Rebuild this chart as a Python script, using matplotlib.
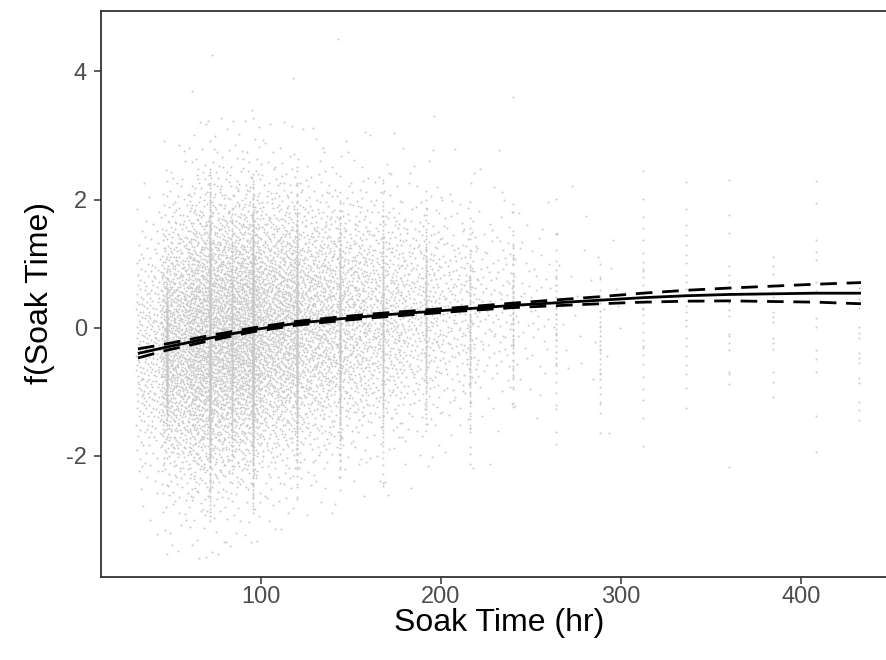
import math
import numpy as np
import matplotlib
matplotlib.use("Agg")
import matplotlib.pyplot as plt

# ---- fitted smooth ----
soak = [32, 48, 72, 96, 120, 144, 168, 192, 216, 240, 264, 288, 312, 336, 360, 384, 408, 433]
fit = [-0.40, -0.30, -0.16, -0.03, 0.07, 0.14, 0.20, 0.25, 0.30, 0.35, 0.39, 0.43, 0.47, 0.50, 0.52, 0.53, 0.54, 0.54]
half_ci = [0.07, 0.05, 0.04, 0.03, 0.03, 0.03, 0.03, 0.03, 0.03, 0.035, 0.045, 0.055, 0.07, 0.085, 0.10, 0.12, 0.14, 0.165]

# ---- partial-residual cloud, summarised per soak-time bin ----
bin_lo = [31, 45, 60, 80, 100, 120, 140, 160, 180, 200, 220, 240, 260]
bin_hi = [45, 60, 80, 100, 120, 140, 160, 180, 200, 220, 240, 260, 300]
bin_n = [260, 800, 1450, 1400, 1050, 750, 560, 420, 290, 200, 110, 55, 30]
bin_sd = [1.00, 1.12, 1.18, 1.15, 1.10, 1.05, 1.00, 0.98, 0.95, 0.90, 0.85, 0.80, 0.80]

# recorded soak times (vertical stripes): hour, count, lowest, highest residual value
col_hr = [48, 72, 84, 96, 120, 144, 168, 192, 216, 240, 264, 288, 312, 336, 360, 384, 408, 432]
col_n = [160, 420, 150, 420, 260, 200, 140, 100, 80, 60, 40, 30, 28, 22, 18, 14, 14, 14]
col_lo = [-1.7, -3.0, -2.6, -2.9, -2.7, -2.6, -2.6, -1.9, -2.3, -1.7, -1.8, -1.9, -2.4, -1.8, -2.2, -1.6, -2.2, -2.2]
col_hi = [0.9, 2.6, 1.9, 2.4, 2.5, 2.3, 2.4, 2.2, 2.0, 2.1, 2.0, 1.4, 3.0, 2.6, 2.5, 2.0, 3.0, 1.3]

# a few isolated high residuals visible above the cloud: (hour, value)
out_hr = [62, 73, 95, 118, 143, 196, 240]
out_val = [3.7, 4.25, 3.4, 3.9, 4.5, 3.3, 3.6]


def halton(n, base, start=1):
    out = np.empty(n)
    for k in range(n):
        i = k + start
        f, r = 1.0, 0.0
        while i > 0:
            f /= base
            r += f * (i % base)
            i //= base
        out[k] = r
    return out


zgrid = np.linspace(-4.5, 4.5, 2001)
cdf = np.array([0.5 * (1 + math.erf(z / math.sqrt(2))) for z in zgrid])


def ppf(u):
    return np.interp(u, cdf, zgrid)


px, py = [], []
start = 1
for lo, hi, n, sd in zip(bin_lo, bin_hi, bin_n, bin_sd):
    u = halton(n, 2, start)
    v = halton(n, 3, start)
    start += n
    x = lo + (hi - lo) * u
    y = np.interp(x, soak, fit) + sd * ppf(np.clip(v, 0.002, 0.998))
    px.append(x)
    py.append(y)
for hr, n, lo, hi in zip(col_hr, col_n, col_lo, col_hi):
    v = halton(n, 5, start)
    start += n
    z = ppf(0.01 + 0.98 * v)
    y = (lo + hi) / 2 + (hi - lo) / 4.6 * z
    px.append(np.full(n, float(hr)))
    py.append(y)
px.append(np.array(out_hr, dtype=float))
py.append(np.array(out_val, dtype=float))
px = np.concatenate(px)
py = np.concatenate(py)

plt.rcParams['font.family'] = ['Liberation Sans', 'DejaVu Sans']
plt.rcParams['axes.unicode_minus'] = False
fig = plt.figure(figsize=(8.86, 6.60), dpi=100)
ax = fig.add_axes([101 / 886, (660 - 576.5) / 660, (897 - 101) / 886, (576.5 - 10.5) / 660])

ax.scatter(px, py, s=2.0, c='#c8c8c8', linewidths=0, zorder=1)

lower = [f - h for f, h in zip(fit, half_ci)]
upper = [f + h for f, h in zip(fit, half_ci)]
ax.plot(soak, fit, color='black', lw=2.0, zorder=3, solid_capstyle='butt')
ax.plot(soak, upper, color='black', lw=2.0, dashes=(6, 3.5), zorder=3)
ax.plot(soak, lower, color='black', lw=2.0, dashes=(6, 3.5), zorder=3)

ax.set_xlim(11.5, 453)
ax.set_ylim(-3.88, 4.95)
ax.set_xticks([100, 200, 300, 400])
ax.set_yticks([-2, 0, 2, 4])
ax.tick_params(axis='both', length=5, width=1.1, color='#333333', labelcolor='#4d4d4d',
               labelsize=17)
ax.tick_params(axis='x', pad=2)
ax.tick_params(axis='y', pad=5)
for s in ax.spines.values():
    s.set_color('#333333')
    s.set_linewidth(1.3)
ax.set_xlabel('Soak Time (hr)', fontsize=23, color='black', labelpad=0)
ax.set_ylabel('f(Soak Time)', fontsize=23, color='black', labelpad=8)

fig.savefig('out.png', dpi=100)
